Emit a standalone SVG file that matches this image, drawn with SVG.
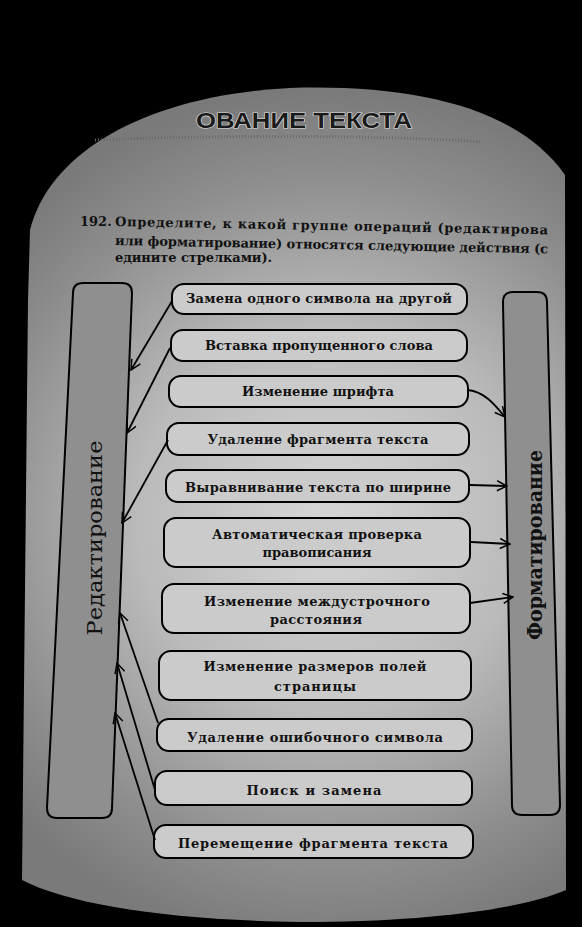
<svg xmlns="http://www.w3.org/2000/svg" width="582" height="927" viewBox="0 0 582 927">
<defs>
<radialGradient id="pg" cx="330" cy="520" r="430" gradientUnits="userSpaceOnUse">
<stop offset="0" stop-color="#d6d6d6"/>
<stop offset="0.45" stop-color="#bababa"/>
<stop offset="0.8" stop-color="#8e8e8e"/>
<stop offset="1" stop-color="#7a7a7a"/>
</radialGradient>
<marker id="ah" viewBox="0 0 12 12" refX="11" refY="6" markerWidth="12" markerHeight="12" markerUnits="userSpaceOnUse" orient="auto">
<path d="M1,1 L11,6 L1,11" fill="none" stroke="#000" stroke-width="1.5"/>
</marker>
<style>
.box{fill:#cbcbcb;stroke:#000;stroke-width:2}
.col{fill:#8f8f8f;stroke:#000;stroke-width:2}
.t{font-family:"DejaVu Serif","Liberation Serif",serif;font-weight:bold;font-size:13px;fill:#111;text-anchor:middle}
.v{font-family:"DejaVu Serif","Liberation Serif",serif;font-size:21px;fill:#111;text-anchor:middle}
.q{font-family:"DejaVu Serif","Liberation Serif",serif;font-weight:bold;font-size:13px;fill:#111}
.c{fill:none;stroke:#000;stroke-width:1.8;marker-end:url(#ah)}
</style>
</defs>
<rect width="582" height="927" fill="#000"/>
<path d="M30,230 C50,150 150,95 290,88 C420,84 520,110 565,175 L566,890 C520,910 420,922 300,922 C170,920 70,905 22,880 L28,300 Z" fill="url(#pg)"/>
<path d="M95,140 C200,135 400,135 480,142" fill="none" stroke="#6a6a6a" stroke-width="3" stroke-dasharray="1 2"/>
<text x="304" y="128" font-family="'Liberation Sans',Arial,sans-serif" font-weight="bold" font-size="22" fill="#1a1a1a" stroke="#e0e0e0" stroke-width="1.2" paint-order="stroke" text-anchor="middle" textLength="216" lengthAdjust="spacingAndGlyphs">ОВАНИЕ ТЕКСТА</text>
<g id="task">
<text class="q" x="80" y="226">192.</text>
<text class="q" x="115" y="226" transform="rotate(1.1 115 226)" textLength="433" lengthAdjust="spacing">Определите, к какой группе операций (редактирова</text>
<text class="q" x="115" y="245" transform="rotate(1.1 115 245)" textLength="433" lengthAdjust="spacing">или форматирование) относятся следующие действия (с</text>
<text class="q" x="115" y="262" textLength="157" lengthAdjust="spacing">едините стрелками).</text>
</g>
<g id="redakt">
<path class="col" d="M83,283 L122,283 Q132,283 132,293 L112,808 Q112,818 102,818 L57,818 Q47,818 47,808 L73,293 Q73,283 83,283 Z"/>
<text class="v" transform="translate(102 538) rotate(-90)" textLength="195" lengthAdjust="spacingAndGlyphs">Редактирование</text>
</g>
<g id="format">
<path class="col" d="M513,292 L537,292 Q547,292 547,302 L560,805 Q560,815 550,815 L522,815 Q512,815 512,805 L503,302 Q503,292 513,292 Z"/>
<text class="v" font-weight="bold" transform="translate(542 545) rotate(-90)" textLength="190" lengthAdjust="spacingAndGlyphs">Форматирование</text>
</g>
<g id="n1"><rect class="box" x="172" y="284" width="295" height="30" rx="12"/><text class="t" x="319" y="303" textLength="266" lengthAdjust="spacing">Замена одного символа на другой</text></g>
<g id="n2"><rect class="box" x="171" y="330" width="296" height="31" rx="12"/><text class="t" x="319" y="350" textLength="228" lengthAdjust="spacing">Вставка пропущенного слова</text></g>
<g id="n3"><rect class="box" x="169" y="376" width="299" height="31" rx="12"/><text class="t" x="318" y="396" textLength="152" lengthAdjust="spacing">Изменение шрифта</text></g>
<g id="n4"><rect class="box" x="167" y="423" width="302" height="32" rx="12"/><text class="t" x="318" y="444" textLength="221" lengthAdjust="spacing">Удаление фрагмента текста</text></g>
<g id="n5"><rect class="box" x="166" y="470" width="303" height="32" rx="12"/><text class="t" x="318" y="492" textLength="266" lengthAdjust="spacing">Выравнивание текста по ширине</text></g>
<g id="n6"><rect class="box" x="164" y="518" width="306" height="49" rx="12"/><text class="t" x="317" y="539" textLength="210" lengthAdjust="spacing">Автоматическая проверка</text><text class="t" x="317" y="557" textLength="109" lengthAdjust="spacing">правописания</text></g>
<g id="n7"><rect class="box" x="162" y="584" width="308" height="49" rx="12"/><text class="t" x="317" y="606" textLength="226" lengthAdjust="spacing">Изменение междустрочного</text><text class="t" x="316" y="624" textLength="92" lengthAdjust="spacing">расстояния</text></g>
<g id="n8"><rect class="box" x="159" y="651" width="312" height="49" rx="12"/><text class="t" x="315" y="671" textLength="223" lengthAdjust="spacing">Изменение размеров полей</text><text class="t" x="315" y="691" textLength="82" lengthAdjust="spacing">страницы</text></g>
<g id="n9"><rect class="box" x="157" y="719" width="315" height="32" rx="12"/><text class="t" x="315" y="742" textLength="256" lengthAdjust="spacing">Удаление ошибочного символа</text></g>
<g id="n10"><rect class="box" x="155" y="771" width="317" height="34" rx="12"/><text class="t" x="314" y="795" textLength="135" lengthAdjust="spacing">Поиск и замена</text></g>
<g id="n11"><rect class="box" x="154" y="825" width="319" height="33" rx="12"/><text class="t" x="313" y="848" textLength="270" lengthAdjust="spacing">Перемещение фрагмента текста</text></g>
<g id="connectors">
<path class="c" d="M172,301 L131,370"/>
<path class="c" d="M170,348 L127,433"/>
<path class="c" d="M168,440 L122,523"/>
<path class="c" d="M468,390 C485,392 495,405 505,417"/>
<path class="c" d="M470,485 L507,486"/>
<path class="c" d="M471,542 L510,544"/>
<path class="c" d="M470,603 L513,597"/>
<path class="c" d="M158,723 L120,613"/>
<path class="c" d="M155,790 L117,663"/>
<path class="c" d="M155,840 L115,713"/>
</g>
</svg>
